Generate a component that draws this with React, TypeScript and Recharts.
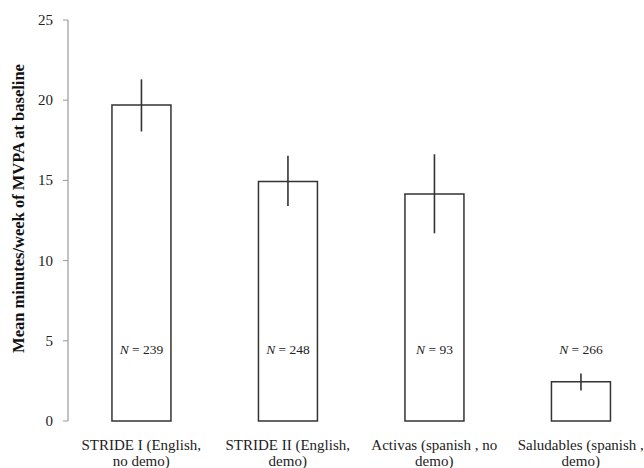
import { BarChart, Bar, XAxis, YAxis, ErrorBar, LabelList } from 'recharts';

// Study groups, two lines per tick label
const groupLine1 = ['STRIDE I (English,', 'STRIDE II (English,', 'Activas (spanish , no', 'Saludables (spanish ,'];
const groupLine2 = ['no demo)', 'demo)', 'demo)', 'demo)'];

// Mean minutes/week of MVPA and error bar ends
const means = [19.7, 14.93, 14.15, 2.45];
const lower = [18.05, 13.4, 11.7, 1.9];
const upper = [21.3, 16.53, 16.63, 2.96];
const sampleSizes = [239, 248, 93, 266];

const yTicks = [0, 5, 10, 15, 20, 25];

const data = means.map((mean, i) => ({
  name: String(i),
  mean,
  err: [mean - lower[i], upper[i] - mean],
  n: sampleSizes[i],
}));

const FONT = "'Liberation Serif', 'Times New Roman', serif";

function GroupTick(props: any) {
  const { x, y, payload } = props;
  const i = Number(payload.value);
  return (
    <g style={{ fontFamily: FONT }}>
      <text x={x} y={y + 21} textAnchor="middle" fontSize={15} fill="#222">
        {groupLine1[i]}
      </text>
      <text x={x} y={y + 37} textAnchor="middle" fontSize={15} fill="#222">
        {groupLine2[i]}
      </text>
    </g>
  );
}

function ValueTick(props: any) {
  const { x, y, payload } = props;
  return (
    <text x={x} y={y + 5} textAnchor="end" fontSize={15} fill="#222" style={{ fontFamily: FONT }}>
      {payload.value}
    </text>
  );
}

function SampleLabel(props: any) {
  const { x, y, width, height, value } = props;
  // sits a fixed distance above the baseline of each bar
  const base = y + height;
  return (
    <text
      x={x + width / 2}
      y={base - 67}
      textAnchor="middle"
      fontSize={13.5}
      fill="#222"
      style={{ fontFamily: FONT }}
    >
      <tspan fontStyle="italic">N</tspan>
      <tspan> = {value}</tspan>
    </text>
  );
}

function YTitle(props: any) {
  const { viewBox } = props;
  const cx = viewBox.x + 24;
  const cy = viewBox.y + viewBox.height / 2 - 12;
  return (
    <text
      x={cx}
      y={cy}
      transform={`rotate(-90 ${cx} ${cy})`}
      textAnchor="middle"
      fontWeight="bold"
      fontSize={16.5}
      fill="#111"
      style={{ fontFamily: FONT }}
    >
      Mean minutes/week of MVPA at baseline
    </text>
  );
}

export default function App() {
  return (
    <div style={{ position: 'absolute', left: 0, top: 0, width: 644, height: 468, overflow: 'hidden', background: '#fff' }}>
      <BarChart
        width={654}
        height={468}
        data={data}
        margin={{ top: 20, right: 0, bottom: 0, left: 0 }}
        barCategoryGap="30%"
      >
        <XAxis
          xAxisId="edges"
          type="number"
          domain={[0, 4]}
          ticks={[1, 2, 3]}
          height={0}
          tick={false}
          tickLine={{ stroke: '#999' }}
          tickSize={4}
          axisLine={{ stroke: '#999', strokeWidth: 1.2 }}
        />
        <XAxis
          dataKey="name"
          height={47}
          axisLine={false}
          tickLine={false}
          interval={0}
          tick={<GroupTick />}
        />
        <YAxis
          width={68}
          domain={[0, 25]}
          ticks={yTicks}
          tickSize={5}
          tickMargin={10}
          tick={<ValueTick />}
          tickLine={{ stroke: '#999' }}
          axisLine={{ stroke: '#999', strokeWidth: 1.2 }}
          label={<YTitle />}
        />
        <Bar dataKey="mean" fill="#fff" stroke="#333" strokeWidth={1.5} isAnimationActive={false}>
          <ErrorBar dataKey="err" width={0} stroke="#333" strokeWidth={1.6} direction="y" />
          <LabelList dataKey="n" content={<SampleLabel />} />
        </Bar>
      </BarChart>
    </div>
  );
}
